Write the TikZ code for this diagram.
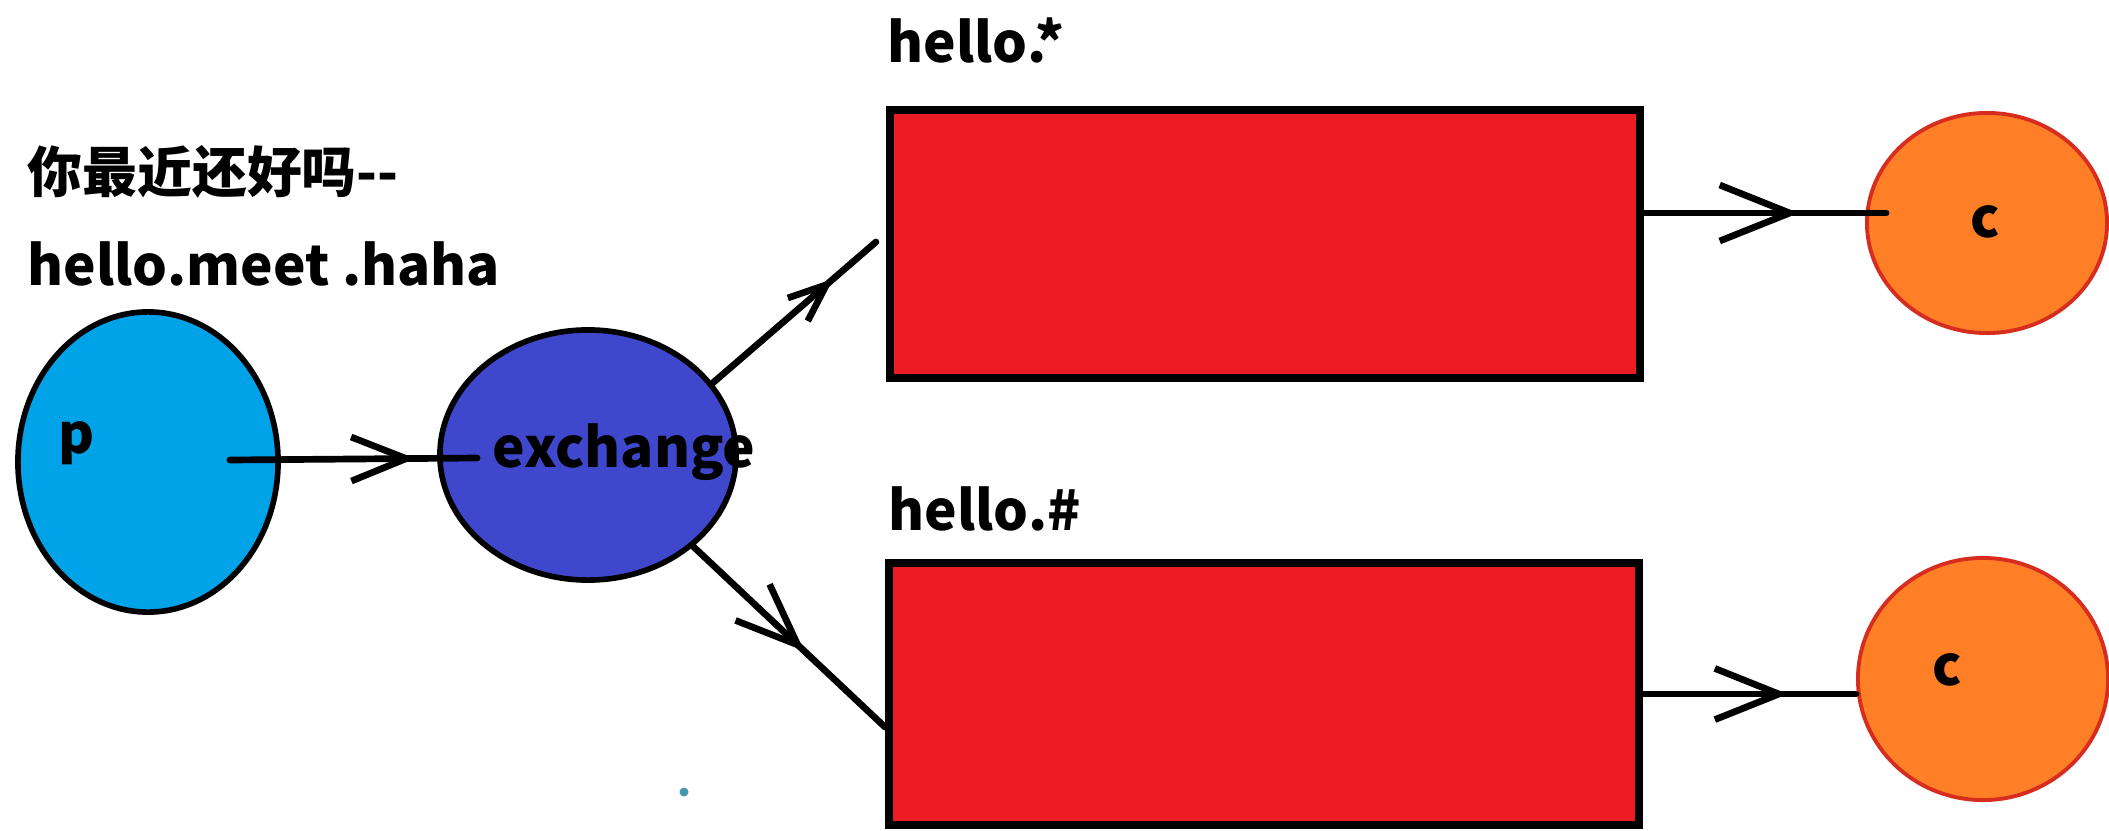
\documentclass[tikz,border=0pt]{standalone}
\usepackage{fontspec}
\setmainfont{Noto Sans CJK SC}
\usetikzlibrary{shapes.geometric,arrows.meta,decorations.markings,calc}
\definecolor{pblue}{RGB}{0,162,232}
\definecolor{xblue}{RGB}{63,72,204}
\definecolor{qred}{RGB}{237,28,36}
\definecolor{corange}{RGB}{255,127,39}
\definecolor{cedge}{RGB}{215,45,30}
\definecolor{dotc}{RGB}{70,150,175}
\begin{document}
\begin{tikzpicture}[x=0.01cm,y=-0.01cm,
  lbl/.style={inner sep=0pt,font=\fontsize{15.6}{18}\selectfont\bfseries},
  blob/.style={ellipse,draw=black,line width=1.6pt,inner sep=0pt},
  queue/.style={rectangle,draw=black,fill=qred,line width=2.2pt,inner sep=0pt,minimum width=7.5cm},
  cons/.style={ellipse,draw=cedge,fill=corange,line width=1.1pt,inner sep=0pt},
  conn/.style={line width=1.9pt,line cap=round},
  midarrow/.style 2 args={postaction={decorate},decoration={markings,
    mark=at position #1 with {\arrow{Straight Barb[length=#2,width=0.8*#2,line width=1.9pt]}}}}]
\useasboundingbox[fill=white] (0,0) rectangle (2109,830);
% shapes
\node[blob,fill=pblue,minimum width=2.6cm,minimum height=3.0cm] (p) at (148,462) {};
\node[blob,fill=xblue,minimum width=2.96cm,minimum height=2.5cm] (ex) at (588,455) {};
\node[queue,minimum height=2.68cm] (q1) at (1265,244) {};
\node[queue,minimum height=2.62cm] (q2) at (1264,694) {};
\node[cons,minimum width=2.4cm,minimum height=2.2cm] (c1) at (1987,223) {};
\node[cons,minimum width=2.5cm,minimum height=2.42cm] (c2) at (1983,679) {};
\fill[dotc] (684,792) circle[radius=0.045cm];
% labels
\node[lbl,anchor=base west] (t1) at (27,192) {你最近还好吗-{}-};
\node[lbl,anchor=base west] (t2) at (27,285) {hello.meet .haha};
\node[lbl,anchor=base west] (t3) at (887,62) {hello.*};
\node[lbl,anchor=base west] (t4) at (888,530) {hello.\#};
% connectors
\coordinate (pa) at ($(p.east)+(-51,-2)$);
\coordinate (eb) at ($(ex.west)+(40,3)$);
\draw[conn,midarrow={0.75}{0.55cm}] (pa) -- (eb);
\coordinate (q1in) at ($(q1.west)+(-10,-2)$);
\draw[conn,midarrow={0.74}{0.38cm}] (ex.30) -- (q1in);
\coordinate (q2in) at ($(q2.west)+(0,33)$);
\draw[conn,midarrow={0.58}{0.62cm}] (ex.-41) -- (q2in);
\coordinate (q1out) at ($(q1.east)+(0,-31)$);
\draw[conn,midarrow={0.70}{0.7cm},shorten >=-6] (q1out) -- (q1out -| c1.west);
\draw[conn,midarrow={0.68}{0.64cm}] (q2.east) -- (q2.east -| c2.west);
% node texts
\node[lbl,anchor=base west] (tp) at (58,453) {p};
\node[lbl,anchor=base west] (tx) at (492,467) {exchange};
\node[lbl,anchor=base west] (tc1) at (1970,237) {c};
\node[lbl,anchor=base west] (tc2) at (1932,685) {c};
\end{tikzpicture}
\end{document}
